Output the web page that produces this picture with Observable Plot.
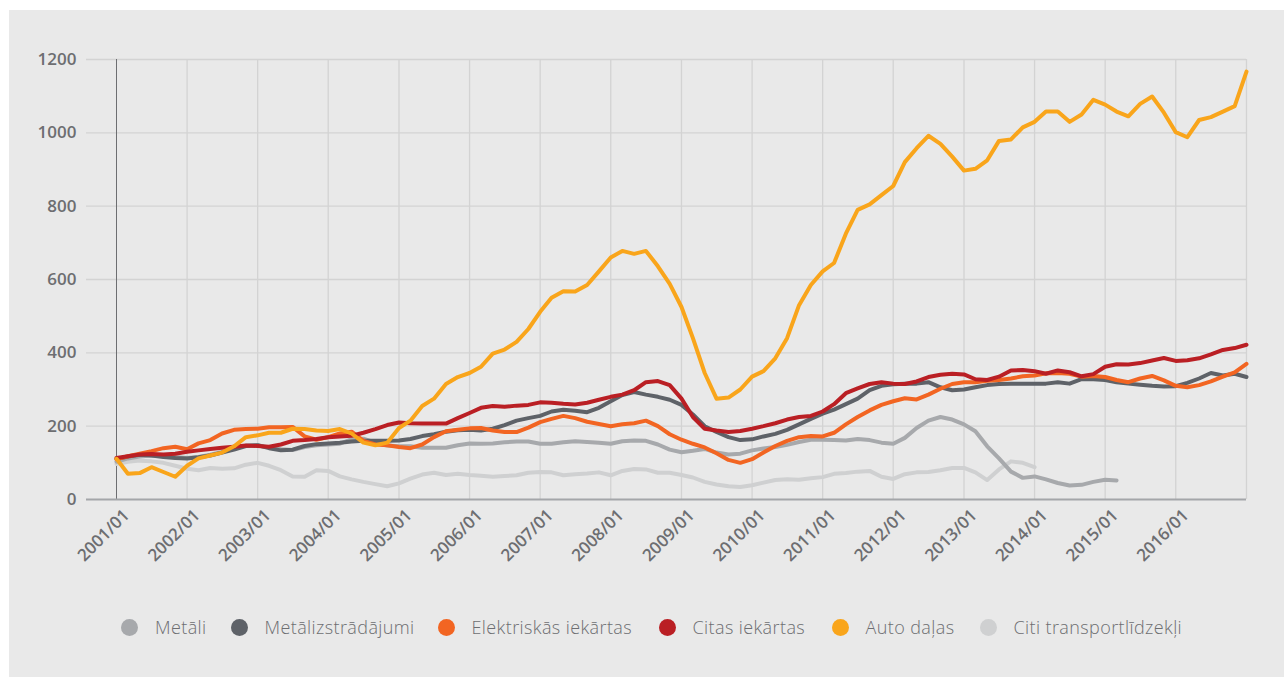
<!DOCTYPE html>
<html>
<head>
<meta charset="utf-8">
<script src="https://cdn.jsdelivr.net/npm/d3@7"></script>
<script src="https://cdn.jsdelivr.net/npm/@observablehq/plot@0.6"></script>
<style>
  body { margin: 0; background: #ffffff; }
  #panel { position: absolute; left: 9px; top: 10px; width: 1275px; height: 667px; background: #e9e9e9; overflow: hidden; }
  #chart { position: absolute; left: 0; top: 0; }
  #legend { position: absolute; left: 0; top: 604px; width: 1275px; height: 26px; font-family: "Open Sans", sans-serif; font-weight: 300; font-size: 18px; letter-spacing: 0.4px; color: #6d6e71; }
  .item { position: absolute; top: 0; height: 26px; display: flex; align-items: center; white-space: nowrap; }
  .dot { width: 17px; height: 17px; border-radius: 50%; margin-right: 17px; flex: none; }
</style>
</head>
<body>
<div id="panel">
  <div id="chart"></div>
  <div id="legend"></div>
</div>
<script>
// ---- data (bi-monthly readings, first value = 2001/01) ----
const seriesNames = ["Metāli", "Metālizstrādājumi", "Elektriskās iekārtas", "Citas iekārtas", "Auto daļas", "Citi transportlīdzekļi"];
const seriesColors = ["#a7a9ac", "#5e6268", "#f26522", "#ba1f24", "#f9a51b", "#cfd0d1"];
const stepMonths = 2;
const yTicks = [0, 200, 400, 600, 800, 1000, 1200];
const xTickYears = [2001, 2002, 2003, 2004, 2005, 2006, 2007, 2008, 2009, 2010, 2011, 2012, 2013, 2014, 2015, 2016];

const metali = [
  103, 112, 117, 120, 118, 116, 113, 116, 122, 130,
  138, 147, 148, 142, 137, 135, 143, 148, 150, 152,
  165, 166, 155, 147, 145, 145, 141, 141, 141, 148,
  153, 152, 153, 156, 158, 158, 152, 152, 156, 159,
  157, 155, 152, 159, 161, 160, 150, 136, 129, 133,
  138, 128, 123, 125, 134, 139, 143, 149, 157, 163,
  163, 162, 161, 165, 162, 155, 152, 168, 195, 215,
  225, 218, 205, 186, 145, 112, 76, 59, 63, 55,
  45, 38, 40, 48, 54, 52
];
const metalizstradajumi = [
  110, 117, 122, 120, 116, 113, 112, 115, 120, 128,
  136, 146, 148, 140, 134, 136, 146, 151, 153, 155,
  158, 160, 160, 160, 161, 165, 173, 178, 185, 189,
  190, 188, 193, 203, 215, 222, 228, 240, 245, 242,
  238, 250, 268, 285, 293, 286, 280, 272, 258, 232,
  200, 184, 170, 162, 164, 172, 179, 190, 205, 220,
  234, 245, 260, 275, 298, 310, 314, 316, 316, 320,
  306, 298, 300, 306, 312, 315, 316, 316, 316, 316,
  320, 316, 328, 328, 326, 320, 316, 313, 310, 308,
  309, 318, 330, 345, 338, 343, 334
];
const elektriskas = [
  110, 118, 125, 132, 140, 144, 137, 153, 162, 180,
  190, 192, 193, 197, 197, 198, 172, 163, 170, 180,
  185, 160, 150, 148, 143, 140, 150, 170, 186, 190,
  194, 195, 188, 184, 184, 196, 211, 220, 228, 222,
  212, 206, 200, 205, 208, 215, 200, 178, 163, 152,
  142, 126, 108, 100, 110, 128, 146, 160, 170, 173,
  172, 182, 205, 225, 243, 258, 268, 276, 273, 286,
  302, 315, 320, 320, 324, 326, 330, 336, 338, 344,
  345, 343, 335, 337, 334, 326, 320, 330, 337, 325,
  310, 306, 312, 322, 335, 347, 370
];
const citasIekartas = [
  113, 118, 123, 124, 123, 125, 130, 134, 138, 141,
  144, 147, 146, 144, 150, 160, 162, 165, 170, 172,
  174, 182, 192, 203, 210, 208, 207, 207, 207, 222,
  236, 250, 255, 253, 256, 258, 265, 264, 261, 259,
  264, 272, 280, 286, 298, 320, 323, 312, 275, 225,
  193, 188, 184, 187, 193, 200, 208, 218, 225, 228,
  240, 260, 290, 303, 315, 320, 316, 315, 322, 334,
  340, 343, 341, 328, 326, 335, 352, 353, 350, 343,
  352, 347, 336, 342, 362, 369, 368, 372, 379, 386,
  378, 380, 385, 396, 408, 413, 422
];
const autoDalas = [
  111, 70, 72, 88, 75, 62, 92, 112, 120, 128,
  145, 170, 175, 182, 182, 193, 192, 188, 187, 192,
  180, 155, 148, 155, 195, 215, 255, 275, 315, 334,
  345, 362, 398, 409, 430, 465, 512, 550, 568, 567,
  585, 622, 660, 678, 670, 678, 636, 588, 525, 440,
  345, 275, 278, 300, 335, 350, 385, 440, 530, 585,
  622, 645, 725, 790, 805, 830, 855, 920, 958, 992,
  970, 935, 897, 902, 925, 978, 982, 1015, 1030, 1058,
  1058, 1030, 1050, 1090, 1077, 1058, 1045, 1079, 1099, 1055,
  1002, 988, 1035, 1043, 1058, 1073, 1167
];
const citiTransport = [
  97, 103, 106, 104, 100, 92, 84, 80, 86, 84,
  85, 95, 100, 92, 80, 63, 62, 80, 78, 63,
  55, 48, 42, 36, 44, 57, 68, 73, 67, 70,
  67, 65, 62, 64, 66, 73, 75, 74, 66, 69,
  71, 74, 66, 78, 83, 82, 73, 73, 67, 60,
  48, 41, 36, 34, 39, 46, 53, 55, 54, 58,
  61, 70, 72, 76, 78, 62, 56, 69, 74, 75,
  80, 86, 86, 74, 53, 82, 104, 100, 88
];
const seriesValues = [metali, metalizstradajumi, elektriskas, citasIekartas, autoDalas, citiTransport];

// ---- build table ----
const monthDate = (m) => new Date(Date.UTC(2001, m, 1));
const rows = [];
const drawOrder = [5, 0, 1, 2, 3, 4];
for (const si of drawOrder) {
  seriesValues[si].forEach((v, i) => rows.push({series: seriesNames[si], date: monthDate(i * stepMonths), value: v}));
}
const xTicks = xTickYears.map(y => new Date(Date.UTC(y, 0, 1)));
const xStart = new Date(Date.UTC(2001, 0, 1));
const xEnd = new Date(Date.UTC(2017, 0, 1));

const chart = Plot.plot({
  width: 1275,
  height: 590,
  marginLeft: 107,
  marginRight: 38,
  marginTop: 49,
  marginBottom: 101,
  style: {background: "transparent", fontFamily: "Open Sans, sans-serif", overflow: "visible"},
  x: {type: "utc", domain: [xStart, xEnd], label: null},
  y: {domain: [0, 1200], label: null},
  color: {domain: seriesNames, range: seriesColors},
  marks: [
    Plot.ruleY(yTicks.filter(d => d > 0), {y: d => d, stroke: "#d3d3d3", strokeWidth: 1.3, insetLeft: -30}),
    Plot.ruleX(xTicks.slice(1).concat([xEnd]), {x: d => d, y1: 0, y2: 1200, stroke: "#d3d3d3", strokeWidth: 1.3}),
    Plot.ruleX([xStart], {x: d => d, y1: 0, y2: 1200, stroke: "#6d6e71", strokeWidth: 1}),
    Plot.ruleY([0], {y: d => d, stroke: "#a4a6a9", strokeWidth: 2.2, insetLeft: -30}),
    Plot.line(rows, {x: "date", y: "value", z: "series", stroke: "series", strokeWidth: 4, strokeLinejoin: "round", strokeLinecap: "round"}),
    Plot.axisY(yTicks, {tickSize: 0, tickPadding: 40, fontSize: 17, fontWeight: 600, fill: "#6d6e71", label: null, tickFormat: d => String(d), style: {letterSpacing: "1px"}}),
    Plot.axisX(xTicks, {tickSize: 0, tickPadding: 13, dx: 10, tickRotate: -45, fontSize: 17, fontWeight: 600, fill: "#6d6e71", label: null, tickFormat: d3.utcFormat("%Y/%m"), style: {letterSpacing: "1.2px"}})
  ]
});
document.getElementById("chart").appendChild(chart);

// ---- legend ----
const legendLeft = [112, 221.5, 428.5, 649.5, 822.5, 970.5];
const legend = document.getElementById("legend");
seriesNames.forEach((name, i) => {
  const item = document.createElement("div");
  item.className = "item";
  item.style.left = legendLeft[i] + "px";
  const dot = document.createElement("span");
  dot.className = "dot";
  dot.style.background = seriesColors[i];
  const label = document.createElement("span");
  label.textContent = name;
  item.appendChild(dot);
  item.appendChild(label);
  legend.appendChild(item);
});
</script>
</body>
</html>
